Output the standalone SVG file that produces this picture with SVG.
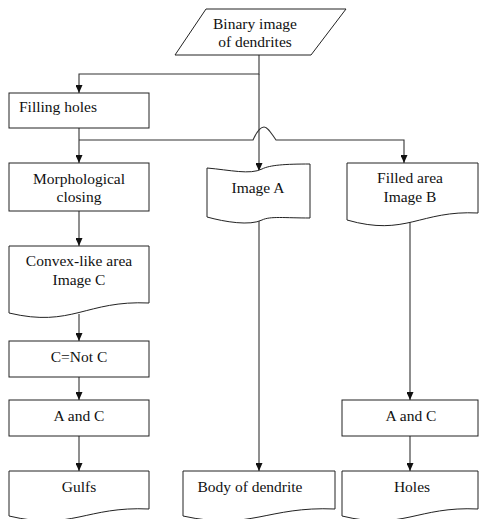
<svg xmlns="http://www.w3.org/2000/svg" width="479" height="519" viewBox="0 0 479 519">
<style>
.box{fill:#fff;stroke:#222;stroke-width:1}
.ln{fill:none;stroke:#333;stroke-width:1.1}
.t text{font-size:15.5px;fill:#111;text-anchor:middle}
</style>
<defs>
<marker id="ar" markerUnits="userSpaceOnUse" markerWidth="8" markerHeight="7" refX="8" refY="3.5" orient="auto">
<path d="M0,0 L8,3.5 L0,7 z" fill="#111"/>
</marker>
</defs>
<rect width="479" height="519" fill="#fff"/>
<g id="connectors">
<path class="ln" d="M259,55 V74 H79 V93" marker-end="url(#ar)"/>
<path class="ln" d="M259,74 V171" marker-end="url(#ar)"/>
<path class="ln" d="M79,128 V163" marker-end="url(#ar)"/>
<path class="ln" d="M79,140 H253 C257,131 260,127 264,127 C268,127 271,133 276,140 H404 V163" marker-end="url(#ar)"/>
<path class="ln" d="M79,211 V246" marker-end="url(#ar)"/>
<path class="ln" d="M79,314 V341" marker-end="url(#ar)"/>
<path class="ln" d="M79,377 V400" marker-end="url(#ar)"/>
<path class="ln" d="M79,436 V471" marker-end="url(#ar)"/>
<path class="ln" d="M259,221 V471" marker-end="url(#ar)"/>
<path class="ln" d="M410,222 V400" marker-end="url(#ar)"/>
<path class="ln" d="M410,436 V471" marker-end="url(#ar)"/>
</g>
<g class="t" font-family="'Liberation Serif', Tinos, 'Times New Roman', 'DejaVu Serif', serif">
<g id="binary">
<path class="box" d="M206,9 H346 L311,55 H175 Z"/>
<text x="255" y="29">Binary image</text>
<text x="255" y="47">of dendrites</text>
</g>
<g id="filling">
<rect class="box" x="9" y="93" width="140" height="35"/>
<text x="19" y="112" style="text-anchor:start">Filling holes</text>
</g>
<g id="morph">
<rect class="box" x="9" y="163" width="140" height="48"/>
<text x="79" y="184">Morphological</text>
<text x="79" y="202">closing</text>
</g>
<g id="imageA">
<path class="box" d="M207,168 C230,170 250,175 262,169 C270,165 285,164 310,164 V218 C285,218 270,216 262,220 C250,226 225,222 207,217 Z"/>
<text x="258" y="193">Image A</text>
</g>
<g id="imageB">
<path class="box" d="M347,163 H478 V213 C420,210 406,237 347,220 Z"/>
<text x="410" y="183">Filled area</text>
<text x="410" y="202">Image B</text>
</g>
<g id="convex">
<path class="box" d="M9,246 H149 V303 C86,300 72,328 9,313 Z"/>
<text x="79" y="266">Convex-like area</text>
<text x="79" y="285">Image C</text>
</g>
<g id="notC">
<rect class="box" x="9" y="341" width="140" height="36"/>
<text x="79" y="362">C=Not C</text>
</g>
<g id="andC1">
<rect class="box" x="9" y="400" width="140" height="36"/>
<text x="79" y="421">A and C</text>
</g>
<g id="andC2">
<rect class="box" x="342" y="400" width="136" height="36"/>
<text x="411" y="421">A and C</text>
</g>
<g id="gulfs">
<path class="box" d="M9,471 H149 V509 C86,506 72,531 9,516 Z"/>
<text x="79" y="492">Gulfs</text>
</g>
<g id="body">
<path class="box" d="M183,471 H335 V509 C267,506 251,531 183,516 Z"/>
<text x="250" y="492">Body of dendrite</text>
</g>
<g id="holes">
<path class="box" d="M342,471 H478 V509 C417,506 403,531 342,516 Z"/>
<text x="412" y="492">Holes</text>
</g>
</g>
</svg>
